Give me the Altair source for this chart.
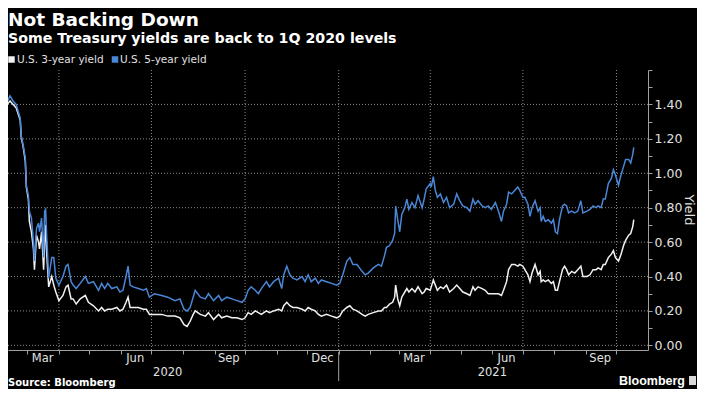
import altair as alt
import pandas as pd

# ---------------- data ----------------
dates = [
    "2020-02-03", "2020-02-06", "2020-02-10", "2020-02-13", "2020-02-16", "2020-02-19",
    "2020-02-23", "2020-02-24", "2020-02-26", "2020-02-28", "2020-02-29", "2020-03-02",
    "2020-03-03", "2020-03-05", "2020-03-07", "2020-03-08", "2020-03-10", "2020-03-12",
    "2020-03-13", "2020-03-15", "2020-03-17", "2020-03-18", "2020-03-19", "2020-03-20",
    "2020-03-22", "2020-03-25", "2020-03-27", "2020-03-29", "2020-04-01", "2020-04-05",
    "2020-04-08", "2020-04-10", "2020-04-13", "2020-04-15", "2020-04-18", "2020-04-22",
    "2020-04-27", "2020-04-30", "2020-05-05", "2020-05-10", "2020-05-13", "2020-05-16",
    "2020-05-19", "2020-05-23", "2020-05-28", "2020-05-31", "2020-06-03", "2020-06-06",
    "2020-06-08", "2020-06-10", "2020-06-13", "2020-06-18", "2020-06-23", "2020-06-26",
    "2020-06-29", "2020-07-04", "2020-07-11", "2020-07-17", "2020-07-24", "2020-07-29",
    "2020-08-02", "2020-08-05", "2020-08-08", "2020-08-11", "2020-08-13", "2020-08-18",
    "2020-08-23", "2020-08-26", "2020-08-31", "2020-09-05", "2020-09-08", "2020-09-13",
    "2020-09-18", "2020-09-23", "2020-09-28", "2020-10-01", "2020-10-04", "2020-10-07",
    "2020-10-11", "2020-10-14", "2020-10-17", "2020-10-22", "2020-10-25", "2020-10-29",
    "2020-11-03", "2020-11-06", "2020-11-08", "2020-11-11", "2020-11-14", "2020-11-17",
    "2020-11-21", "2020-11-26", "2020-11-29", "2020-12-02", "2020-12-05", "2020-12-09",
    "2020-12-12", "2020-12-15", "2020-12-20", "2020-12-25", "2020-12-30", "2021-01-02",
    "2021-01-05", "2021-01-09", "2021-01-12", "2021-01-15", "2021-01-19", "2021-01-24",
    "2021-01-27", "2021-01-30", "2021-02-04", "2021-02-09", "2021-02-12", "2021-02-15",
    "2021-02-17", "2021-02-20", "2021-02-23", "2021-02-25", "2021-02-26", "2021-02-28",
    "2021-03-02", "2021-03-04", "2021-03-07", "2021-03-09", "2021-03-11", "2021-03-14",
    "2021-03-17", "2021-03-20", "2021-03-24", "2021-03-26", "2021-03-28", "2021-04-01",
    "2021-04-02", "2021-04-04", "2021-04-06", "2021-04-08", "2021-04-11", "2021-04-14",
    "2021-04-17", "2021-04-20", "2021-04-24", "2021-04-27", "2021-04-30", "2021-05-03",
    "2021-05-07", "2021-05-10", "2021-05-13", "2021-05-15", "2021-05-18", "2021-05-22",
    "2021-05-25", "2021-05-28", "2021-05-31", "2021-06-04", "2021-06-07", "2021-06-10",
    "2021-06-12", "2021-06-15", "2021-06-17", "2021-06-20", "2021-06-23", "2021-06-26",
    "2021-06-28", "2021-07-01", "2021-07-03", "2021-07-06", "2021-07-08", "2021-07-10",
    "2021-07-13", "2021-07-16", "2021-07-18", "2021-07-19", "2021-07-21", "2021-07-23",
    "2021-07-26", "2021-07-29", "2021-07-31", "2021-08-02", "2021-08-04", "2021-08-06",
    "2021-08-09", "2021-08-11", "2021-08-13", "2021-08-15", "2021-08-18", "2021-08-21",
    "2021-08-24", "2021-08-27", "2021-08-29", "2021-09-02", "2021-09-05", "2021-09-08",
    "2021-09-11", "2021-09-13", "2021-09-16", "2021-09-18", "2021-09-20", "2021-09-23",
    "2021-09-26", "2021-09-28", "2021-09-30", "2021-10-03", "2021-10-05", "2021-10-08",
    "2021-10-10", "2021-10-13", "2021-10-15", "2021-10-17", "2021-10-18",
]

yield_5y = [
    1.41, 1.47, 1.41, 1.45, 1.42, 1.40,
    1.32, 1.22, 1.16, 1.09, 0.93, 0.87,
    0.78, 0.74, 0.60, 0.49, 0.68, 0.71,
    0.66, 0.74, 0.51, 0.78, 0.79, 0.64,
    0.39, 0.51, 0.51, 0.39, 0.35, 0.40,
    0.46, 0.47, 0.37, 0.35, 0.33, 0.36,
    0.40, 0.36, 0.37, 0.32, 0.36, 0.33,
    0.36, 0.33, 0.34, 0.31, 0.32, 0.40,
    0.46, 0.35, 0.34, 0.33, 0.32, 0.33,
    0.28, 0.30, 0.29, 0.28, 0.26, 0.27,
    0.21, 0.20, 0.22, 0.28, 0.32, 0.28,
    0.27, 0.30, 0.26, 0.29, 0.26, 0.28,
    0.27, 0.26, 0.25, 0.27, 0.32, 0.34,
    0.32, 0.30, 0.33, 0.37, 0.34, 0.37,
    0.39, 0.33, 0.41, 0.46, 0.41, 0.39,
    0.38, 0.40, 0.37, 0.41, 0.37, 0.39,
    0.36, 0.38, 0.37, 0.36, 0.35, 0.36,
    0.41, 0.49, 0.51, 0.47, 0.47, 0.43,
    0.41, 0.42, 0.45, 0.47, 0.46, 0.52,
    0.57, 0.58, 0.61, 0.65, 0.81, 0.73,
    0.66, 0.76, 0.80, 0.85, 0.79, 0.83,
    0.80, 0.87, 0.80, 0.85, 0.91, 0.94,
    0.92, 0.98, 0.90, 0.86, 0.88, 0.83,
    0.86, 0.80, 0.82, 0.88, 0.84, 0.81,
    0.80, 0.78, 0.85, 0.82, 0.84, 0.81,
    0.80, 0.81, 0.79, 0.83, 0.78, 0.72,
    0.78, 0.82, 0.89, 0.88, 0.90, 0.92,
    0.90, 0.86, 0.86, 0.82, 0.75, 0.80,
    0.84, 0.78, 0.80, 0.72, 0.75, 0.72,
    0.73, 0.71, 0.73, 0.66, 0.65, 0.73,
    0.81, 0.82, 0.81, 0.77, 0.78, 0.77,
    0.78, 0.84, 0.77, 0.78, 0.79, 0.81,
    0.80, 0.81, 0.80, 0.85, 0.85, 0.94,
    0.97, 1.02, 0.99, 0.93, 0.98, 1.04,
    1.08, 1.08, 1.06, 1.11, 1.15,
]

yield_3y = [
    1.35, 1.44, 1.40, 1.42, 1.40, 1.38,
    1.31, 1.21, 1.15, 1.07, 0.92, 0.85,
    0.72, 0.66, 0.56, 0.44, 0.64, 0.60,
    0.56, 0.66, 0.44, 0.60, 0.70, 0.54,
    0.34, 0.40, 0.35, 0.31, 0.26, 0.29,
    0.34, 0.35, 0.27, 0.27, 0.24, 0.27,
    0.29, 0.25, 0.23, 0.20, 0.22, 0.20,
    0.21, 0.21, 0.22, 0.20, 0.21, 0.25,
    0.28, 0.22, 0.22, 0.22, 0.21, 0.21,
    0.18, 0.18, 0.18, 0.17, 0.17, 0.16,
    0.12, 0.11, 0.14, 0.18, 0.20, 0.18,
    0.17, 0.19, 0.15, 0.18, 0.16, 0.17,
    0.16, 0.16, 0.15, 0.16, 0.19, 0.18,
    0.20, 0.19, 0.18, 0.20, 0.19, 0.20,
    0.21, 0.20, 0.23, 0.25, 0.23, 0.22,
    0.22, 0.21, 0.20, 0.22, 0.21, 0.20,
    0.18, 0.17, 0.18, 0.17, 0.16, 0.17,
    0.20, 0.22, 0.23, 0.21, 0.20, 0.18,
    0.17, 0.18, 0.19, 0.20, 0.20, 0.22,
    0.22, 0.24, 0.25, 0.28, 0.35, 0.27,
    0.23, 0.28, 0.31, 0.33, 0.31, 0.33,
    0.31, 0.34, 0.30, 0.31, 0.33, 0.32,
    0.34, 0.38, 0.35, 0.32, 0.34, 0.33,
    0.35, 0.31, 0.33, 0.35, 0.33, 0.31,
    0.30, 0.29, 0.34, 0.32, 0.34, 0.33,
    0.32, 0.30, 0.30, 0.30, 0.30, 0.29,
    0.32, 0.37, 0.44, 0.47, 0.47, 0.46,
    0.47, 0.46, 0.44, 0.41, 0.37, 0.42,
    0.47, 0.41, 0.43, 0.37, 0.38, 0.37,
    0.38, 0.36, 0.37, 0.32, 0.32, 0.37,
    0.44, 0.46, 0.44, 0.41, 0.43, 0.42,
    0.44, 0.46, 0.40, 0.40, 0.41, 0.44,
    0.44, 0.45, 0.44, 0.47, 0.47, 0.51,
    0.53, 0.55, 0.51, 0.49, 0.52, 0.58,
    0.61, 0.64, 0.65, 0.69, 0.73,
]

month_ticks = [
    "2020-03-01", "2020-04-01", "2020-05-01", "2020-06-01", "2020-07-01", "2020-08-01",
    "2020-09-01", "2020-10-01", "2020-11-01", "2020-12-01", "2021-01-01", "2021-02-01",
    "2021-03-01", "2021-04-01", "2021-05-01", "2021-06-01", "2021-07-01", "2021-08-01",
    "2021-09-01", "2021-10-01",
]
quarter_lines = ["2020-04-01", "2020-07-01", "2020-10-01", "2021-01-01",
                 "2021-04-01", "2021-07-01", "2021-10-01"]
month_label_dates = ["2020-03-16", "2020-06-15", "2020-09-15", "2020-12-16",
                     "2021-03-16", "2021-06-15", "2021-09-15"]
month_labels = ["Mar", "Jun", "Sep", "Dec", "Mar", "Jun", "Sep"]
year_label_dates = ["2020-07-17", "2021-06-01"]
year_labels = ["2020", "2021"]
year_breaks = ["2021-01-01"]
y_grid = [0.0, 0.2, 0.4, 0.6, 0.8, 1.0, 1.2, 1.4]
y_ticks = [0.0, 0.1, 0.2, 0.3, 0.4, 0.5, 0.6, 0.7, 0.8, 0.9, 1.0,
           1.1, 1.2, 1.3, 1.4, 1.5, 1.6]

series_names = ["U.S. 3-year yield", "U.S. 5-year yield"]
series_colors = ["#f2f2f2", "#4a86d6"]

# ---------------- helpers ----------------
def dt(s):
    return alt.DateTime(year=int(s[:4]), month=int(s[5:7]), date=int(s[8:10]))

W, H = 640, 280
FONT = "DejaVu Sans"
TXT = "#e0e0e0"
GRID = "#8a8a8a"

xscale = alt.Scale(domain=[dt("2020-02-11"), dt("2021-11-01")])
yscale = alt.Scale(domain=[-0.027, 1.6], nice=False, zero=False)

df = pd.DataFrame({"date": dates, "y5": yield_5y, "y3": yield_3y})
ygrid_df = pd.DataFrame({"v": y_grid})
xgrid_df = pd.DataFrame({"d": quarter_lines})
mlab_df = pd.DataFrame({"d": month_label_dates, "t": month_labels})
ylab_df = pd.DataFrame({"d": year_label_dates, "t": year_labels})
ybrk_df = pd.DataFrame({"d": year_breaks})
one = pd.DataFrame({"k": [0]})

x_axis = alt.Axis(values=[dt(s) for s in month_ticks], labels=False, grid=False,
                  tickSize=4, tickColor="#a0a0a0", domainColor="#a0a0a0",
                  title=None)
y_axis = alt.Axis(orient="right", values=y_ticks, grid=False, tickSize=4,
                  labelExpr="(round(datum.value*10) % 2 == 0 && datum.value < 1.5) ? format(datum.value, '.2f') : ''",
                  labelOverlap=False, labelPadding=2, labelFontSize=12.5,
                  labelColor=TXT, labelFont=FONT, tickColor="#a0a0a0",
                  domainColor="#a0a0a0", title=None)

ygrid = alt.Chart(ygrid_df).mark_rule(color=GRID, strokeDash=[1, 2], strokeWidth=1).encode(
    y=alt.Y("v:Q", scale=yscale, axis=y_axis))
xgrid = alt.Chart(xgrid_df).mark_rule(color=GRID, strokeDash=[1, 2], strokeWidth=1).encode(
    x=alt.X("d:T", scale=xscale, axis=x_axis))

line3 = alt.Chart(df).mark_line(clip=True, strokeWidth=1.5, color=series_colors[0]).encode(
    x=alt.X("date:T", scale=xscale, axis=x_axis),
    y=alt.Y("y3:Q", scale=yscale, axis=y_axis))
line5 = alt.Chart(df).mark_line(clip=True, strokeWidth=1.5, color=series_colors[1]).encode(
    x=alt.X("date:T", scale=xscale, axis=x_axis),
    y=alt.Y("y5:Q", scale=yscale, axis=y_axis))

mlab = alt.Chart(mlab_df).mark_text(font=FONT, fontSize=11.5, color=TXT, baseline="middle").encode(
    x=alt.X("d:T", scale=xscale, axis=x_axis), y=alt.value(H + 9), text="t:N")
ylab = alt.Chart(ylab_df).mark_text(font=FONT, fontSize=11.5, color=TXT, baseline="middle").encode(
    x=alt.X("d:T", scale=xscale, axis=x_axis), y=alt.value(H + 23), text="t:N")
ybrk = alt.Chart(ybrk_df).mark_rule(color="#a0a0a0", strokeWidth=1).encode(
    x=alt.X("d:T", scale=xscale, axis=x_axis), y=alt.value(H + 2), y2=alt.value(H + 31))

def label(text, x, y, size, bold=False, align="left", font=FONT, angle=0, baseline="alphabetic"):
    return alt.Chart(one).mark_text(text=text, font=font, fontSize=size,
                                    fontWeight="bold" if bold else "normal",
                                    color="white" if bold else TXT, angle=angle,
                                    align=align, baseline=baseline).encode(
        x=alt.value(x), y=alt.value(y))

title = label("Not Backing Down", 0, -44.5, 18.5, bold=True)
subtitle = label("Some Treasury yields are back to 1Q 2020 levels", 0, -27, 14.2, bold=True)
leg1_txt = label(series_names[0], 9, -7, 10.5)
leg2_txt = label(series_names[1], 112, -7, 10.5)
leg1_sq = alt.Chart(one).mark_square(size=42, color=series_colors[0], opacity=1).encode(
    x=alt.value(3.5), y=alt.value(-10.5))
leg2_sq = alt.Chart(one).mark_square(size=42, color=series_colors[1], opacity=1).encode(
    x=alt.value(107), y=alt.value(-10.5))
ytitle = label("Yield", 681, 140, 13, angle=90, align="center", baseline="middle")
source = label("Source: Bloomberg", 0, H + 36, 10, bold=True)
logo = label("Bloomberg", 677, H + 35, 12.5, bold=True, align="right", font="Liberation Sans")
logo_icon = alt.Chart(one).mark_rect(color="#d8d8d8").encode(
    x=alt.value(681), x2=alt.value(688), y=alt.value(H + 26), y2=alt.value(H + 35))

chart = alt.layer(
    ygrid, xgrid, line3, line5, mlab, ylab, ybrk,
    title, subtitle, leg1_sq, leg1_txt, leg2_sq, leg2_txt, ytitle, source, logo, logo_icon,
).properties(
    width=W, height=H, background="black",
    autosize=alt.AutoSizeParams(type="none"),
    padding={"left": 0, "top": 62, "right": 49, "bottom": 39},
).configure_view(stroke=None)

chart.save("out.html", embed_options={"renderer": "svg", "actions": False})
